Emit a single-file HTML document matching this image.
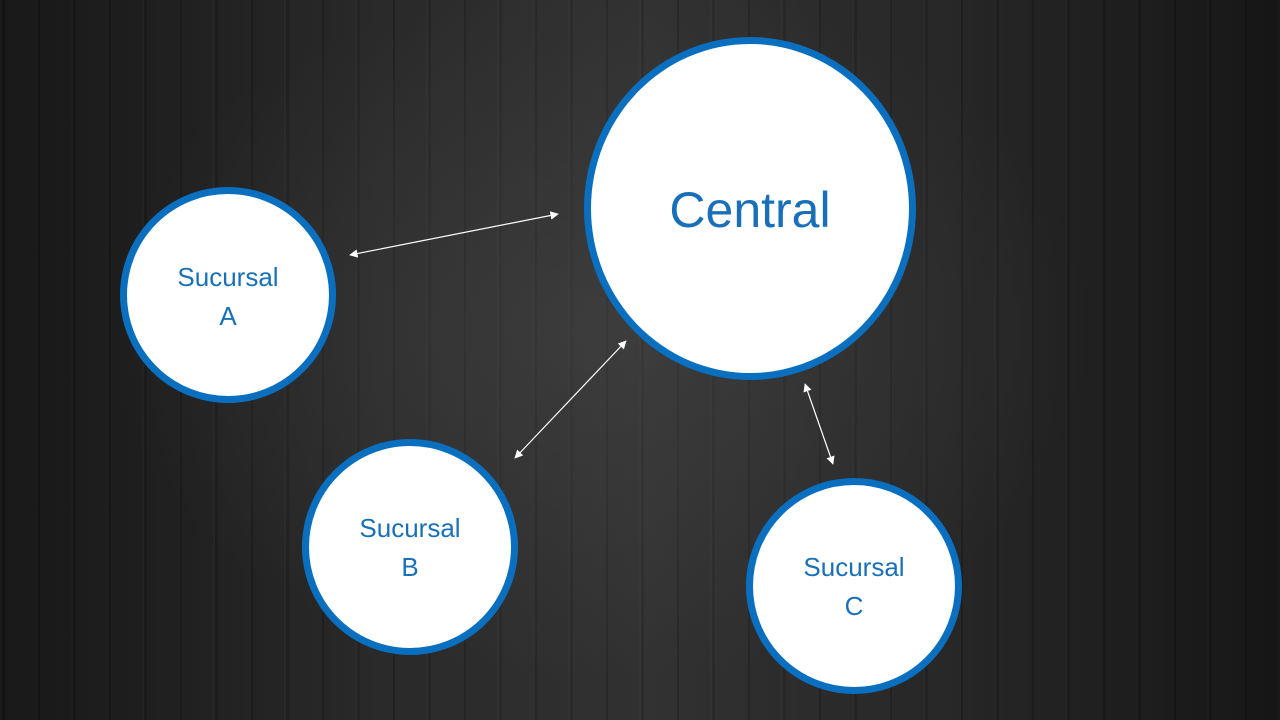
<!DOCTYPE html>
<html><head><meta charset="utf-8"><style>
html,body{margin:0;padding:0}
body{width:1280px;height:720px;overflow:hidden;position:relative;
background:
radial-gradient(ellipse 700px 500px at 600px 330px, rgba(70,70,70,0.55), rgba(0,0,0,0) 70%),
repeating-linear-gradient(90deg, rgba(255,255,255,0.03) 0 2px, rgba(0,0,0,0.06) 2px 5px, rgba(255,255,255,0.02) 5px 38px, rgba(0,0,0,0.12) 38px 40px, rgba(255,255,255,0.015) 40px 71px),
linear-gradient(90deg,#141414 0%,#262626 30%,#2e2e2e 50%,#232323 75%,#121212 100%);}
.c{position:absolute;border-radius:50%;background:#fff;border:7px solid #0a6fbf;box-sizing:border-box;
display:flex;align-items:center;justify-content:center;text-align:center;color:#1a70b8;
font-family:"Liberation Sans",sans-serif;}
.s{font-size:26px;line-height:39px}
</style></head><body>
<div class="c" style="left:584px;top:37px;width:332px;height:343px;font-size:50px;"><span style="margin-top:2px">Central</span></div>
<div class="c s" style="left:120px;top:187px;width:216px;height:216px;"><span style="margin-top:4px">Sucursal<br>A</span></div>
<div class="c s" style="left:302px;top:439px;width:216px;height:216px;"><span style="margin-top:2px">Sucursal<br>B</span></div>
<div class="c s" style="left:746px;top:478px;width:216px;height:216px;"><span style="margin-top:2px">Sucursal<br>C</span></div>
<svg width="1280" height="720" style="position:absolute;left:0;top:0">
<defs><marker id="a" viewBox="0 0 10 10" refX="9" refY="5" markerWidth="7" markerHeight="7" orient="auto-start-reverse"><path d="M0,0L10,5L0,10z" fill="#fff"/></marker></defs>
<g stroke="#fff" stroke-width="1.2" fill="none" marker-start="url(#a)" marker-end="url(#a)">
<line x1="350" y1="255" x2="558" y2="214"/>
<line x1="515" y1="458" x2="626" y2="341"/>
<line x1="805" y1="384" x2="833" y2="464"/>
</g></svg>
</body></html>
